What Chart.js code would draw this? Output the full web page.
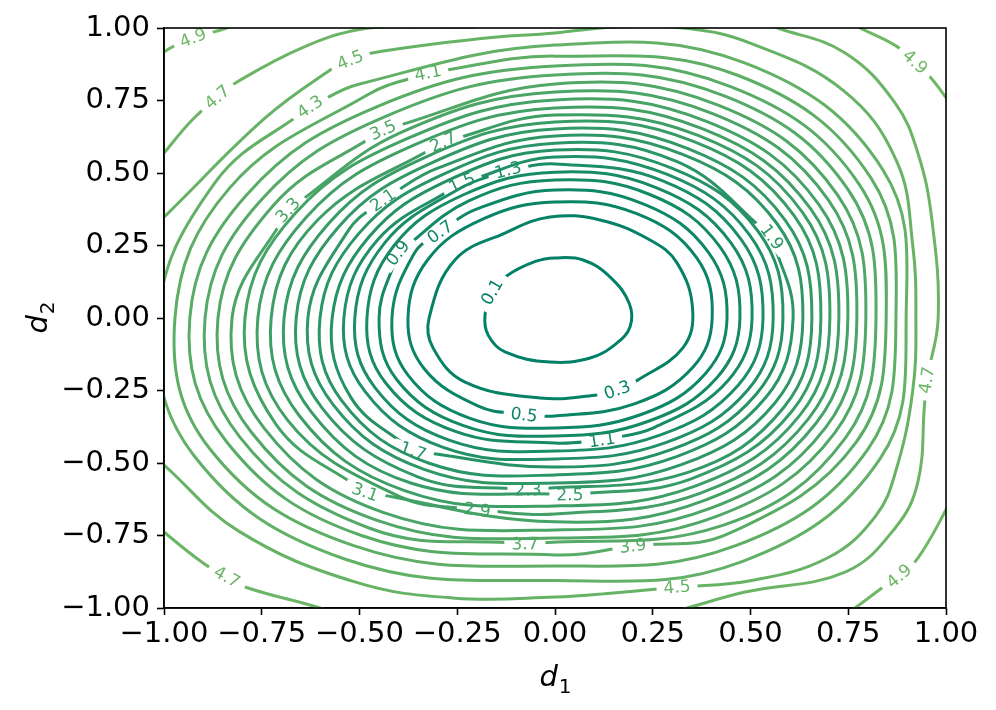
<!DOCTYPE html>
<html><head><meta charset="utf-8">
<script src="https://cdn.jsdelivr.net/npm/chart.js@4.4.1/dist/chart.umd.min.js"></script>
<style>html,body{margin:0;padding:0;background:#fff}</style>
</head><body>
<canvas id="c" width="996" height="710"></canvas>
<script>
// ---- data ----
const levels = [0.1,0.3,0.5,0.7,0.9,1.1,1.3,1.5,1.7,1.9,2.1,2.3,2.5,2.7,2.9,3.1,3.3,3.5,3.7,3.9,4.1,4.3,4.5,4.7,4.9];
const xTicks = [-1,-0.75,-0.5,-0.25,0,0.25,0.5,0.75,1];
const yTicks = [-1,-0.75,-0.5,-0.25,0,0.25,0.5,0.75,1];

// contour paths [d1,d2]; closed contours start and end at their label
const c01 = [[-0.161,0.09],[-0.12,0.148],[-0.05,0.195],[0.0,0.207],[0.072,0.2],[0.141,0.141],[0.19,0.05],[0.192,-0.03],[0.155,-0.09],[0.09,-0.138],[-0.013,-0.152],[-0.128,-0.117],[-0.171,-0.059],[-0.179,0.01],[-0.161,0.09]];
const c03 = [[0.159,-0.248],[0.102,-0.266],[-0.038,-0.276],[-0.23,-0.221],[-0.312,-0.103],[-0.322,0.0],[-0.256,0.2],[-0.128,0.293],[-0.013,0.348],[0.115,0.338],[0.243,0.269],[0.312,0.19],[0.352,0.03],[0.327,-0.103],[0.212,-0.214],[0.159,-0.248]];
const c05 = [[-0.079,-0.334],[-0.196,-0.304],[-0.335,-0.174],[-0.376,0],[-0.326,0.2],[-0.185,0.341],[0,0.4],[0.209,0.36],[0.362,0.208],[0.402,0],[0.352,-0.171],[0.203,-0.296],[0,-0.338],[-0.079,-0.334]];
const c07 = [[-0.294,0.297],[-0.204,0.374],[0,0.441],[0.227,0.393],[0.392,0.227],[0.44,0],[0.385,-0.191],[0.222,-0.332],[0,-0.379],[-0.219,-0.345],[-0.376,-0.197],[-0.417,0],[-0.361,0.221],[-0.294,0.297]];
const c09 = [[-0.402,0.224],[-0.2205,0.404],[0,0.476],[0.244,0.425],[0.422,0.245],[0.473,0],[0.414,-0.206],[0.239,-0.356],[0,-0.407],[-0.236,-0.37],[-0.405,-0.212],[-0.45,0],[-0.402,0.224]];
const c11 = [[0.12,-0.421],[0,-0.431],[-0.253,-0.392],[-0.433,-0.224],[-0.481,0],[-0.412,0.249],[-0.234,0.425],[0,0.503],[0.26,0.449],[0.45,0.259],[0.504,0],[0.441,-0.218],[0.255,-0.377],[0.12,-0.421]];
const c13 = [[-0.12,0.51],[0,0.531],[0.274,0.474],[0.475,0.273],[0.532,0],[0.468,-0.233],[0.27,-0.403],[0,-0.459],[-0.271,-0.421],[-0.461,-0.239],[-0.512,0],[-0.435,0.26],[-0.247,0.444],[-0.12,0.51]];
const c15 = [[-0.238,0.466],[0,0.555],[0.287,0.495],[0.498,0.286],[0.558,0],[0.493,-0.248],[0.285,-0.429],[0,-0.486],[-0.286,-0.446],[-0.486,-0.253],[-0.54,0],[-0.454,0.269],[-0.238,0.466]];
const c17 = [[-0.363,-0.459],[-0.523,-0.272],[-0.57,0],[-0.476,0.279],[-0.271,0.476],[0,0.579],[0.3,0.516],[0.52,0.298],[0.583,0],[0.515,-0.262],[0.297,-0.454],[0,-0.514],[-0.363,-0.459]];
const c19 = [[0.555,0.279],[0.609,0],[0.538,-0.276],[0.311,-0.478],[0,-0.541],[-0.322,-0.501],[-0.546,-0.284],[-0.601,0],[-0.502,0.291],[-0.285,0.496],[0,0.603],[0.314,0.538],[0.555,0.279]];
const c21 = [[-0.44,0.407],[-0.3,0.517],[0,0.628],[0.328,0.563],[0.568,0.325],[0.634,0],[0.563,-0.292],[0.325,-0.505],[0,-0.569],[-0.335,-0.522],[-0.569,-0.296],[-0.632,0],[-0.528,0.303],[-0.44,0.407]];
const c23 = [[-0.069,-0.593],[-0.351,-0.548],[-0.596,-0.31],[-0.662,0],[-0.553,0.315],[-0.314,0.536],[0,0.652],[0.34,0.584],[0.589,0.337],[0.657,0],[0.586,-0.307],[0.338,-0.533],[-0.069,-0.593]];
const c25 = [[0.038,-0.61],[-0.367,-0.57],[-0.624,-0.323],[-0.693,0],[-0.579,0.326],[-0.329,0.556],[0,0.676],[0.354,0.609],[0.612,0.352],[0.68,0],[0.607,-0.32],[0.35,-0.554],[0.038,-0.61]];
const c27 = [[-0.286,0.607],[0,0.7],[0.366,0.63],[0.633,0.364],[0.703,0],[0.627,-0.334],[0.362,-0.578],[0,-0.648],[-0.385,-0.595],[-0.654,-0.337],[-0.726,0],[-0.607,0.338],[-0.286,0.607]];
const c29 = [[-0.199,-0.662],[-0.399,-0.615],[-0.684,-0.352],[-0.76,0],[-0.635,0.349],[-0.361,0.596],[0,0.724],[0.378,0.652],[0.654,0.376],[0.726,0],[0.648,-0.348],[0.374,-0.603],[0,-0.676],[-0.199,-0.662]];
const c31 = [[-0.486,-0.6],[-0.714,-0.366],[-0.793,0],[-0.663,0.363],[-0.377,0.619],[0,0.752],[0.389,0.677],[0.675,0.391],[0.749,0],[0.668,-0.362],[0.386,-0.627],[0,-0.703],[-0.486,-0.6]];
const c33 = [[-0.683,0.372],[-0.392,0.641],[0,0.779],[0.403,0.705],[0.699,0.407],[0.772,0],[0.692,-0.378],[0.4,-0.655],[0,-0.731],[-0.438,-0.671],[-0.744,-0.38],[-0.826,0],[-0.683,0.372]];
const c35 = [[-0.44,0.648],[0,0.807],[0.417,0.734],[0.723,0.424],[0.795,0],[0.716,-0.395],[0.413,-0.684],[0,-0.759],[-0.457,-0.697],[-0.776,-0.395],[-0.862,0],[-0.72,0.389],[-0.44,0.648]];
const c37 = [[-0.077,-0.779],[-0.474,-0.725],[-0.806,-0.411],[-0.895,0],[-0.752,0.406],[-0.43,0.697],[0,0.838],[0.433,0.766],[0.75,0.442],[0.821,0],[0.743,-0.413],[0.429,-0.715],[-0.077,-0.779]];
const c39 = [[0.199,-0.786],[0,-0.817],[-0.495,-0.75],[-0.841,-0.425],[-0.934,0],[-0.789,0.424],[-0.453,0.73],[0,0.869],[0.449,0.798],[0.778,0.461],[0.847,0],[0.77,-0.429],[0.445,-0.743],[0.199,-0.786]];
const c41 = [[-0.325,0.845],[0,0.903],[0.467,0.837],[0.808,0.483],[0.872,0],[0.8,-0.453],[0.462,-0.785],[0,-0.855],[-0.515,-0.785],[-0.884,-0.449],[-0.972,0],[-0.833,0.447],[-0.479,0.77],[-0.325,0.845]];
const c43 = [[-0.627,0.728],[-0.502,0.806],[0,0.941],[0.485,0.88],[0.84,0.508],[0.898,0],[0.832,-0.484],[0.48,-0.839],[0,-0.905],[-0.538,-0.831],[-0.923,-0.475],[-1.015,0],[-0.87,0.466],[-0.627,0.728]];
const c45 = [[-1.04,0.3],[-1.0,0.348],[-0.742,0.689],[-0.575,0.855],[-0.524,0.89],[-0.468,0.914],[-0.2,0.962],[0,0.983],[0.15,1.003],[0.34,0.998],[0.499,0.948],[0.737,0.785],[0.874,0.54],[0.915,0.25],[0.923,0],[0.915,-0.25],[0.872,-0.526],[0.82,-0.683],[0.699,-0.826],[0.503,-0.905],[0.312,-0.928],[0.15,-0.948],[0,-0.962],[-0.256,-0.966],[-0.512,-0.91],[-0.809,-0.735],[-1.0,-0.507],[-1.04,-0.46]];
const c47 = [[-1.03,0.52],[-1.0,0.569],[-0.93,0.68],[-0.864,0.762],[-0.813,0.814],[-0.65,0.93],[-0.5,0.995],[-0.35,1.003],[-0.21,1.003],[-0.1,1.02],null,
             [0.5,1.03],[0.57,1.0],[0.742,0.914],[0.87,0.741],[0.928,0.569],[0.964,0.338],[0.98,0.0],[0.951,-0.214],[0.945,-0.3],[0.928,-0.566],[0.87,-0.724],[0.742,-0.876],[0.486,-0.945],[0.338,-1.0],[0.25,-1.03],null,
             [-0.55,-1.03],[-0.601,-1.0],[-0.785,-0.931],[-0.839,-0.893],[-0.9,-0.845],[-1.0,-0.738],[-1.03,-0.7]];
const c49 = [[-1.05,0.85],[-1.0,0.917],[-0.926,0.966],[-0.84,1.0],[-0.8,1.03],null,
             [0.72,1.04],[0.78,1.0],[0.87,0.94],[0.921,0.883],[0.96,0.83],[1.0,0.76],[1.02,0.72],null,
             [0.72,-1.04],[0.767,-1.0],[0.836,-0.931],[0.88,-0.89],[0.928,-0.828],[0.997,-0.669],[1.02,-0.6]];
// label anchors of the open contours
const lab45 = [[-0.524,0.89],[0.312,-0.928]];
const lab47 = [[-0.864,0.762],[0.951,-0.214],[-0.839,-0.893]];
const lab49 = [[-0.926,0.966],[0.921,0.883],[0.88,-0.89]];

// ---- drawing ----
const paths = [c01,c03,c05,c07,c09,c11,c13,c15,c17,c19,c21,c23,c25,c27,c29,c31,c33,c35,c37,c39,c41,c43,c45,c47,c49];
const openLabels = {22: lab45, 23: lab47, 24: lab49};
const CMAP_TOP = 11.0;
function levelColor(L){
  const t = (L - levels[0]) / (CMAP_TOP - levels[0]);
  return `rgb(${Math.round(255*t)},${Math.round(127.5+127.5*t)},102)`;
}
function fmt(v){ const s = Math.abs(v).toFixed(2); return (v < -1e-9 ? '\u2212' : '') + s; }
const FONT = '"DejaVu Sans", "Liberation Sans", sans-serif';

function labelsFor(chart, i){
  const xs = chart.scales.x, ys = chart.scales.y;
  const p = paths[i];
  const anchors = openLabels[i] || [p[0]];
  const out = [];
  const ctx = chart.ctx;
  ctx.save(); ctx.font = '17px ' + FONT;
  const txt = levels[i].toFixed(1);
  const tw = ctx.measureText(txt).width;
  ctx.restore();
  for (const a of anchors){
    const k = p.findIndex(q => q && q[0] === a[0] && q[1] === a[1]);
    let prev, next;
    if (!openLabels[i]) { prev = p[p.length-2]; next = p[1]; }
    else { prev = p[k-1] || p[k]; next = p[k+1] || p[k]; }
    const px = xs.getPixelForValue(a[0]), py = ys.getPixelForValue(a[1]);
    const dx = xs.getPixelForValue(next[0]) - xs.getPixelForValue(prev[0]);
    const dy = ys.getPixelForValue(next[1]) - ys.getPixelForValue(prev[1]);
    let ang = Math.atan2(dy, dx);
    if (ang > Math.PI/2) ang -= Math.PI;
    if (ang < -Math.PI/2) ang += Math.PI;
    out.push({x:px, y:py, a:ang, w:tw + 14, h:13, txt});
  }
  return out;
}

const contourLabels = {
  id: 'contourLabels',
  beforeDatasetDraw(chart, args){
    const ctx = chart.ctx;
    const rects = labelsFor(chart, args.index);
    ctx.save();
    ctx.beginPath();
    ctx.rect(0, 0, chart.width, chart.height);
    for (const r of rects){
      const c = Math.cos(r.a), s = Math.sin(r.a), hw = r.w/2, hh = r.h/2;
      const pts = [[-hw,-hh],[hw,-hh],[hw,hh],[-hw,hh]].map(([u,v]) => [r.x + u*c - v*s, r.y + u*s + v*c]);
      ctx.moveTo(pts[0][0], pts[0][1]);
      for (let j = 1; j < 4; j++) ctx.lineTo(pts[j][0], pts[j][1]);
      ctx.closePath();
    }
    ctx.clip('evenodd');
  },
  afterDatasetDraw(chart){ chart.ctx.restore(); },
  afterDatasetsDraw(chart){
    const ctx = chart.ctx, ca = chart.chartArea;
    ctx.save();
    ctx.beginPath(); ctx.rect(ca.left, ca.top, ca.right-ca.left, ca.bottom-ca.top); ctx.clip();
    for (let i = 0; i < levels.length; i++){
      for (const r of labelsFor(chart, i)){
        ctx.save();
        ctx.translate(r.x, r.y); ctx.rotate(r.a);
        ctx.font = '17px ' + FONT; ctx.fillStyle = levelColor(levels[i]);
        ctx.textAlign = 'center'; ctx.textBaseline = 'middle';
        ctx.fillText(r.txt, 0, 1);
        ctx.restore();
      }
    }
    ctx.restore();
  }
};

const frameAndTitles = {
  id: 'frameAndTitles',
  afterDraw(chart){
    const ctx = chart.ctx, ca = chart.chartArea;
    ctx.save();
    ctx.strokeStyle = '#000'; ctx.lineWidth = 1.6;
    ctx.strokeRect(ca.left, ca.top, ca.right-ca.left, ca.bottom-ca.top);
    ctx.fillStyle = '#000';
    function sublabel(main, sub, cx, cy){
      ctx.font = 'italic 29px ' + FONT;
      const w1 = ctx.measureText(main).width;
      ctx.font = '20px ' + FONT;
      const w2 = ctx.measureText(sub).width;
      const x0 = cx - (w1 + w2)/2;
      ctx.textBaseline = 'alphabetic'; ctx.textAlign = 'left';
      ctx.font = 'italic 29px ' + FONT; ctx.fillText(main, x0, cy);
      ctx.font = '20px ' + FONT; ctx.fillText(sub, x0 + w1 + 1, cy + 7);
    }
    sublabel('d', '1', (ca.left+ca.right)/2, 686);
    ctx.save();
    ctx.translate(47, (ca.top+ca.bottom)/2); ctx.rotate(-Math.PI/2);
    sublabel('d', '2', 0, 0);
    ctx.restore();
    ctx.restore();
  }
};

const datasets = paths.map((p, i) => ({
  label: levels[i].toFixed(1),
  data: p.map(q => q ? {x:q[0], y:q[1]} : {x:NaN, y:NaN}),
  showLine: true, pointRadius: 0, pointHoverRadius: 0,
  borderColor: levelColor(levels[i]), borderWidth: 3,
  tension: 0.4, fill: false, spanGaps: false, clip: 0
}));

function axis(ticksArr, isX){
  return {
    type: 'linear', min: -1, max: 1,
    afterBuildTicks: s => { s.ticks = ticksArr.map(v => ({value: v})); },
    afterFit: s => { if (isX) s.height = 102; else s.width = 164; },
    ticks: { callback: v => fmt(v), color: '#000', font: {family: FONT, size: 29}, padding: isX ? 2 : 7,
             autoSkip: false, maxRotation: 0, minRotation: 0 },
    grid: { display: true, drawOnChartArea: false, drawTicks: true, tickLength: 7, tickWidth: 1.6, tickColor: '#000' },
    border: { display: true, color: '#000', width: 1.6 }
  };
}

new Chart(document.getElementById('c'), {
  type: 'scatter',
  data: { datasets },
  options: {
    responsive: false, animation: false, devicePixelRatio: 1, events: [],
    layout: { padding: { top: 28, right: 50, left: 0, bottom: 0 } },
    plugins: { legend: {display: false}, tooltip: {enabled: false} },
    scales: { x: axis(xTicks, true), y: axis(yTicks, false) }
  },
  plugins: [contourLabels, frameAndTitles]
});
</script>
</body></html>
